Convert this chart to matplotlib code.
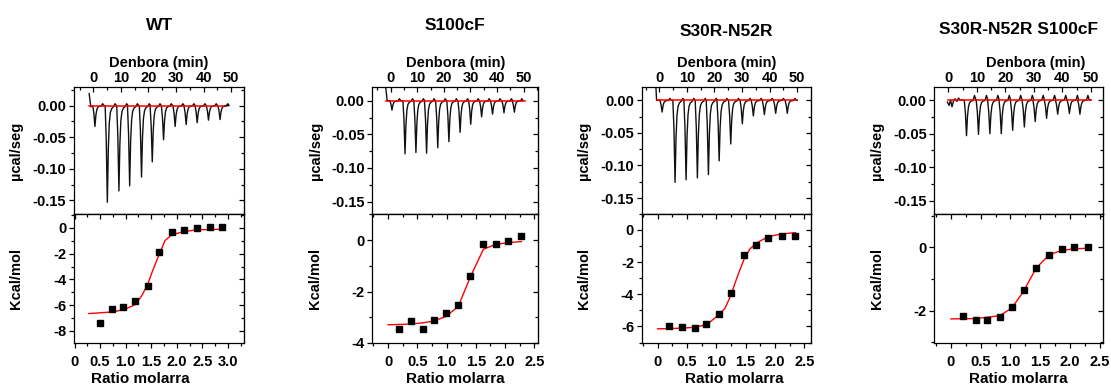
import matplotlib
matplotlib.use("Agg")
import matplotlib.pyplot as plt
from matplotlib.ticker import MultipleLocator, FixedLocator, FuncFormatter

plt.rcParams['font.family'] = ['Liberation Sans', 'DejaVu Sans']
plt.rcParams['font.weight'] = 'bold'
plt.rcParams['axes.unicode_minus'] = False

titles = ['WT', 'S100cF', 'S30R-N52R', 'S30R-N52R S100cF']

# ---- thermograms: injection peaks (time of minimum, depth in µcal/seg) ----
wt_start_t = [-1.5, -0.9]
wt_start_v = [0.019, -0.002]
wt_peak_t = [0.6, 5.1, 9.3, 13.2, 17.5, 21.4, 25.5, 29.7, 33.7, 37.7, 41.8, 46.0]
wt_peak_h = [-0.033, -0.153, -0.135, -0.127, -0.113, -0.089, -0.054, -0.033, -0.030, -0.027, -0.023, -0.022]

s100_start_t = [-2.0, -1.3]
s100_start_v = [0.025, 0.0]
s100_peak_t = [0.5, 5.4, 9.5, 13.5, 17.7, 21.9, 26.1, 30.1, 34.2, 38.3, 42.6, 46.5]
s100_peak_h = [-0.014, -0.079, -0.077, -0.078, -0.070, -0.061, -0.047, -0.035, -0.024, -0.020, -0.018, -0.017]

nr_start_t = [-1.3, -1.0]
nr_start_v = [0.025, 0.0]
nr_peak_t = [1.0, 5.7, 9.7, 13.8, 17.8, 21.7, 25.9, 30.1, 34.1, 38.1, 42.2, 46.4]
nr_peak_h = [-0.018, -0.126, -0.122, -0.119, -0.114, -0.093, -0.067, -0.036, -0.024, -0.022, -0.020, -0.020]

nrs_start_t = [-0.3, 0.3, 0.8, 1.3, 1.8, 2.4, 3.0, 3.6, 4.2, 5.0]
nrs_start_v = [-0.003, -0.008, 0.0, -0.010, -0.002, 0.002, -0.002, 0.003, 0.0, 0.0]
nrs_peak_t = [6.4, 10.6, 14.6, 18.6, 22.6, 26.7, 30.5, 34.5, 38.4, 42.5, 46.2]
nrs_peak_h = [-0.053, -0.051, -0.050, -0.050, -0.045, -0.040, -0.032, -0.027, -0.021, -0.020, -0.021]

trace_end = [47.8, 49.5, 50.0, 50.0]
overshoot = [0.003, 0.003, 0.003, 0.007]
base_t = [(-1.4, 47.8), (-1.8, 50.5), (-1.0, 50.0), (-0.2, 50.1)]

# outline of one injection peak (time offset from minimum, fraction of depth)
peak_rel = [-0.8, -0.4, 0.0, 0.35, 0.7, 1.1, 1.6, 2.3]
peak_frac = [0.0, 0.35, 1.0, 0.45, 0.18, 0.07, 0.03, 0.01]

# ---- integrated heats ----
wt_ratio = [0.50, 0.73, 0.95, 1.19, 1.43, 1.66, 1.90, 2.14, 2.39, 2.64, 2.89]
wt_heat = [-7.43, -6.27, -6.12, -5.65, -4.54, -1.88, -0.28, -0.13, -0.03, 0.10, 0.05]
wt_fit_x = [0.28, 0.76, 0.99, 1.19, 1.32, 1.43, 1.53, 1.66, 1.77, 1.90, 2.14, 2.39, 2.91]
wt_fit_y = [-6.66, -6.53, -6.32, -5.96, -5.24, -4.39, -3.30, -2.01, -0.98, -0.54, -0.28, -0.15, -0.10]

s100_ratio = [0.19, 0.39, 0.59, 0.79, 0.99, 1.20, 1.41, 1.63, 1.84, 2.06, 2.28]
s100_heat = [-3.45, -3.16, -3.45, -3.10, -2.85, -2.54, -1.38, -0.15, -0.15, -0.03, 0.17]
s100_fit_x = [0.0, 0.19, 0.39, 0.59, 0.79, 0.99, 1.20, 1.41, 1.63, 1.84, 2.06, 2.28]
s100_fit_y = [-3.29, -3.28, -3.26, -3.22, -3.14, -2.97, -2.58, -1.42, -0.36, -0.17, -0.10, -0.06]

nr_ratio = [0.20, 0.42, 0.63, 0.83, 1.04, 1.25, 1.47, 1.68, 1.89, 2.12, 2.35]
nr_heat = [-6.00, -6.05, -6.09, -5.84, -5.20, -3.95, -1.55, -0.91, -0.48, -0.39, -0.35]
nr_fit_x = [0.0, 0.42, 0.63, 0.83, 1.04, 1.15, 1.25, 1.35, 1.47, 1.57, 1.68, 1.89, 2.12, 2.35]
nr_fit_y = [-6.15, -6.11, -6.05, -5.90, -5.30, -4.87, -4.06, -3.00, -1.86, -1.20, -0.83, -0.41, -0.25, -0.17]

nrs_ratio = [0.21, 0.42, 0.61, 0.82, 1.02, 1.22, 1.43, 1.65, 1.86, 2.07, 2.30]
nrs_heat = [-2.16, -2.29, -2.28, -2.21, -1.90, -1.35, -0.65, -0.23, -0.04, 0.01, 0.0]
nrs_fit_x = [0.0, 0.42, 0.82, 1.02, 1.22, 1.43, 1.65, 1.86, 2.07, 2.30]
nrs_fit_y = [-2.26, -2.25, -2.16, -1.92, -1.39, -0.66, -0.24, -0.10, -0.05, -0.03]

# ---- layout (pixels of the 1111x385 figure) ----
W, H = 1111, 385
ax_left = [74, 372.3, 641.7, 934.3]
ax_right = [244.3, 538.3, 810.7, 1103.3]
title_y = [25, 26, 31, 30]
time_xlim = [(-7.0, 54.8), (-6.9, 55.5), (-6.4, 54.9), (-4.9, 54.4)]
dq_ylim = [(-0.172, 0.029), (-0.169, 0.020), (-0.175, 0.020), (-0.170, 0.019)]
ratio_xlim = [(-0.01, 3.32), (-0.27, 2.57), (-0.27, 2.61), (-0.28, 2.56)]
heat_ylim = [(-8.95, 1.06), (-4.0, 1.0), (-7.03, 0.97), (-3.02, 1.04)]
heat_ticks = [[0, -2, -4, -6, -8], [0, -2, -4], [0, -2, -4, -6], [0, -2]]
ratio_ticks = [[0, 0.5, 1.0, 1.5, 2.0, 2.5, 3.0], [0, 0.5, 1.0, 1.5, 2.0, 2.5],
               [0, 0.5, 1.0, 1.5, 2.0, 2.5], [0, 0.5, 1.0, 1.5, 2.0, 2.5]]
time_label_x = [0.5, 0.5, 0.5, 0.6]
ratio_label_x = [0.39, 0.5, 0.55, 0.5]

starts = [(wt_start_t, wt_start_v), (s100_start_t, s100_start_v),
          (nr_start_t, nr_start_v), (nrs_start_t, nrs_start_v)]
peaks = [(wt_peak_t, wt_peak_h), (s100_peak_t, s100_peak_h),
         (nr_peak_t, nr_peak_h), (nrs_peak_t, nrs_peak_h)]
points = [(wt_ratio, wt_heat), (s100_ratio, s100_heat), (nr_ratio, nr_heat), (nrs_ratio, nrs_heat)]
fits = [(wt_fit_x, wt_fit_y), (s100_fit_x, s100_fit_y), (nr_fit_x, nr_fit_y), (nrs_fit_x, nrs_fit_y)]

FS = 10.5


def build_trace(st, sv, pt, ph, bump, end):
    t, v = list(st), list(sv)
    for p, h in zip(pt, ph):
        for r, f in zip(peak_rel, peak_frac):
            t.append(p + r)
            v.append(h * f)
        t.append(p + 2.8)
        v.append(bump)
        t.append(p + 3.3)
        v.append(0.0)
    t.append(end)
    v.append(0.0)
    return t, v


def inner_ticks(ax, side, major, minor):
    if side == 'right':
        sec = ax.secondary_yaxis('right')
        sec.yaxis.set_major_locator(major)
        sec.yaxis.set_minor_locator(minor)
        sec.tick_params(which='both', direction='in', labelright=False)
    else:
        sec = ax.secondary_xaxis('top')
        sec.xaxis.set_major_locator(major)
        sec.xaxis.set_minor_locator(minor)
        sec.tick_params(which='both', direction='in', labeltop=False)
    sec.tick_params(which='major', length=3.5, width=0.9)
    sec.tick_params(which='minor', length=2, width=0.9)


fig = plt.figure(figsize=(W / 100, H / 100), dpi=100)
y_sep, y_top, y_bot = 214.3, 87.3, 343.0

for i in range(4):
    x0 = ax_left[i] / W
    w = (ax_right[i] - ax_left[i]) / W
    ax_t = fig.add_axes([x0, (H - y_sep) / H, w, (y_sep - y_top) / H])
    ax_b = fig.add_axes([x0, (H - y_bot) / H, w, (y_bot - y_sep) / H])

    # ---- thermogram ----
    t, v = build_trace(*starts[i], *peaks[i], overshoot[i], trace_end[i])
    ax_t.plot(t, v, color='#111111', lw=1.0)
    ax_t.plot(base_t[i], [0, 0], color='red', lw=1.1)
    ax_t.set_xlim(time_xlim[i])
    ax_t.set_ylim(dq_ylim[i])
    ax_t.xaxis.tick_top()
    ax_t.xaxis.set_label_position('top')
    ax_t.set_xticks([0, 10, 20, 30, 40, 50])
    ax_t.xaxis.set_minor_locator(MultipleLocator(5))
    ax_t.set_yticks([0, -0.05, -0.10, -0.15])
    ax_t.set_yticklabels(['0.00', '-0.05', '-0.10', '-0.15'])
    ax_t.yaxis.set_minor_locator(MultipleLocator(0.025))
    ax_t.tick_params(axis='x', which='both', direction='in', top=True, bottom=False,
                     labelsize=FS, pad=2)
    ax_t.tick_params(axis='y', which='both', direction='out', right=False,
                     labelsize=FS, pad=2)
    ax_t.tick_params(which='major', length=3.5, width=0.9)
    ax_t.tick_params(which='minor', length=2, width=0.9)
    inner_ticks(ax_t, 'right', MultipleLocator(0.05), MultipleLocator(0.025))
    ax_t.set_xlabel('Denbora (min)', fontsize=FS, fontweight='bold')
    ax_t.xaxis.set_label_coords(time_label_x[i], 1.16)
    ax_t.set_ylabel('µcal/seg', fontsize=FS, fontweight='bold')
    ax_t.yaxis.set_label_coords(-0.30, 0.5)

    # ---- integrated heats ----
    ax_b.plot(*fits[i], color='red', lw=1.0, zorder=2)
    ax_b.plot(*points[i], linestyle='none', marker='s', ms=4, color='black', zorder=3)
    ax_b.set_xlim(ratio_xlim[i])
    ax_b.set_ylim(heat_ylim[i])
    ax_b.set_xticks(ratio_ticks[i])
    ax_b.set_xticklabels(['0' if r == 0 else '%.1f' % r for r in ratio_ticks[i]])
    ax_b.xaxis.set_minor_locator(MultipleLocator(0.25))
    ax_b.yaxis.set_major_locator(FixedLocator(heat_ticks[i]))
    ax_b.yaxis.set_major_formatter(FuncFormatter(lambda val, pos: '%d' % val))
    ax_b.yaxis.set_minor_locator(MultipleLocator(1))
    ax_b.tick_params(which='both', direction='out', top=False, right=False, labelsize=FS)
    ax_b.tick_params(axis='x', pad=5)
    ax_b.tick_params(axis='y', pad=2)
    ax_b.tick_params(which='major', length=3.5, width=0.9)
    ax_b.tick_params(which='minor', length=2, width=0.9)
    inner_ticks(ax_b, 'right', MultipleLocator(2), MultipleLocator(1))
    inner_ticks(ax_b, 'top', MultipleLocator(0.5), MultipleLocator(0.25))
    ax_b.set_xlabel('Ratio molarra', fontsize=FS + 0.5, fontweight='bold')
    ax_b.xaxis.set_label_coords(ratio_label_x[i], -0.225)
    ax_b.set_ylabel('Kcal/mol', fontsize=FS, fontweight='bold')
    ax_b.yaxis.set_label_coords(-0.30, 0.5)

    for a in (ax_t, ax_b):
        for s in a.spines.values():
            s.set_linewidth(0.9)

    fig.text((ax_left[i] + ax_right[i]) / 2 / W, 1 - title_y[i] / H, titles[i],
             ha='center', va='center', fontsize=12.5, fontweight='bold')

fig.savefig('out.png', dpi=100)
